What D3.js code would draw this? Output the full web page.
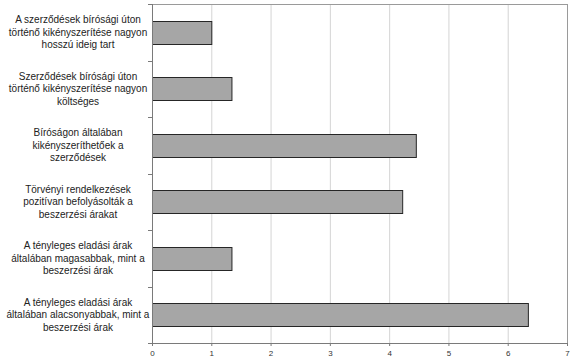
<!DOCTYPE html>
<html>
<head>
<meta charset="utf-8">
<script src="https://cdn.jsdelivr.net/npm/d3@7"></script>
<style>
  body { margin: 0; background: #fff; }
  svg { display: block; font-family: "Liberation Sans", Arial, sans-serif; }
</style>
</head>
<body>
<svg id="chart" width="586" height="363"></svg>
<script>
// categories, top to bottom, with line breaks as in the original
const categories = [
    ["A szerződések bírósági úton", "történő kikényszerítése nagyon", "hosszú ideig tart"],
    ["Szerződések bírósági úton", "történő kikényszerítése nagyon", "költséges"],
    ["Bíróságon általában", "kikényszeríthetőek a", "szerződések"],
    ["Törvényi rendelkezések", "pozitívan befolyásolták a", "beszerzési árakat"],
    ["A tényleges eladási árak", "általában magasabbak, mint a", "beszerzési árak"],
    ["A tényleges eladási árak", "általában alacsonyabbak, mint a", "beszerzési árak"]
]
const values = [1.0, 1.34, 4.45, 4.22, 1.34, 6.34]
const xTicks = [0, 1, 2, 3, 4, 5, 6, 7]

const margin = { top: 4, right: 19, bottom: 20, left: 152 }
const width = 586, height = 363

const svg = d3.select("#chart")
const x = d3.scaleLinear().domain([0, 7]).range([margin.left, width - margin.right])
const y = d3.scaleBand().domain(d3.range(categories.length))
    .range([margin.top, height - margin.bottom]).paddingInner(0.6).paddingOuter(0.3)
const yEdges = d3.scaleLinear().domain([0, categories.length]).range([margin.top, height - margin.bottom])

// gridlines
svg.append("g")
    .selectAll("line")
    .data(xTicks.slice(1))
    .join("line")
    .attr("x1", d => x(d) + 0.5).attr("x2", d => x(d) + 0.5)
    .attr("y1", margin.top).attr("y2", height - margin.bottom)
    .attr("stroke", d => d === 7 ? "#9a9a9a" : "#d4d4d4")

// top border
svg.append("line")
    .attr("x1", margin.left).attr("x2", width - margin.right + 0.5)
    .attr("y1", margin.top + 0.5).attr("y2", margin.top + 0.5)
    .attr("stroke", "#9a9a9a")

// bars
svg.append("g")
    .selectAll("rect")
    .data(values)
    .join("rect")
    .attr("x", x(0) + 0.5)
    .attr("y", (d, i) => Math.round(y(i)) + 0.5)
    .attr("width", d => x(d) - x(0))
    .attr("height", Math.round(y.bandwidth()))
    .attr("fill", "#a6a6a6")
    .attr("stroke", "#262626")
    .attr("stroke-width", 1)

// x axis
const xAxis = svg.append("g")
    .attr("transform", `translate(0,${height - margin.bottom})`)
    .call(d3.axisBottom(x).tickValues(xTicks).tickSize(3).tickFormat(d3.format("d")))
xAxis.select(".domain").attr("stroke", "#7a7a7a")
xAxis.selectAll(".tick line").attr("stroke", "#7a7a7a")
xAxis.selectAll("text").attr("font-size", 8).attr("fill", "#333").attr("dy", "0.9em")

// y axis line and category-boundary ticks
svg.append("line")
    .attr("x1", margin.left + 0.5).attr("x2", margin.left + 0.5)
    .attr("y1", margin.top).attr("y2", height - margin.bottom)
    .attr("stroke", "#7a7a7a")
svg.append("g")
    .selectAll("line")
    .data(d3.range(categories.length + 1))
    .join("line")
    .attr("x1", margin.left - 4).attr("x2", margin.left)
    .attr("y1", d => Math.round(yEdges(d)) + 0.5).attr("y2", d => Math.round(yEdges(d)) + 0.5)
    .attr("stroke", "#7a7a7a")

// category labels
const labels = svg.append("g")
    .selectAll("text")
    .data(categories)
    .join("text")
    .attr("text-anchor", "middle")
    .attr("font-size", 10)
    .attr("fill", "#222")
    .attr("transform", (d, i) => `translate(78,${y(i) + y.bandwidth() / 2})`)
labels.selectAll("tspan")
    .data(d => d)
    .join("tspan")
    .attr("x", 0)
    .attr("y", (d, i, n) => (i - (n.length - 1) / 2) * 12.5)
    .attr("dy", "0.35em")
    .text(d => d)
</script>
</body>
</html>
